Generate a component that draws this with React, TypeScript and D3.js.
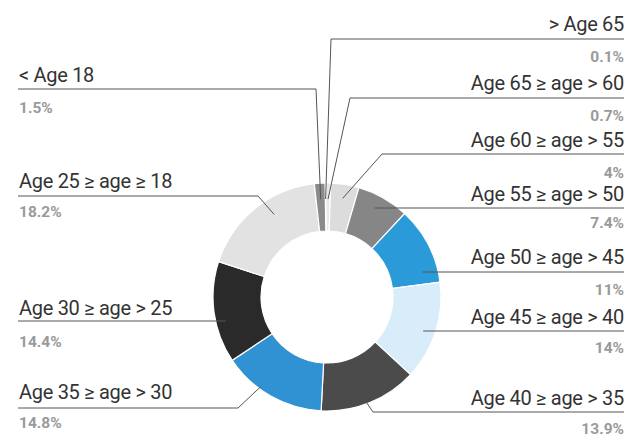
import * as d3 from "d3";

// slices, clockwise from 12 o'clock
const categories = [
  "> Age 65",
  "Age 65 ≥ age > 60",
  "Age 60 ≥ age > 55",
  "Age 55 ≥ age > 50",
  "Age 50 ≥ age > 45",
  "Age 45 ≥ age > 40",
  "Age 40 ≥ age > 35",
  "Age 35 ≥ age > 30",
  "Age 30 ≥ age > 25",
  "Age 25 ≥ age ≥ 18",
  "< Age 18",
];
const values = [0.1, 0.7, 4, 7.4, 11, 14, 13.9, 14.8, 14.4, 18.2, 1.5];
const valueLabels = ["0.1%", "0.7%", "4%", "7.4%", "11%", "14%", "13.9%", "14.8%", "14.4%", "18.2%", "1.5%"];

const colors = [
  "#c9c9c9", "#e8e8e8", "#dcdcdc", "#868686", "#2b9ad8", "#d9ecf9",
  "#4b4b4b", "#3091d3", "#2a2a2a", "#e2e2e2", "#8a8a8a",
];

// label layout: side, text baseline, rule y, value baseline, leader line
type Lay = {
  side: "l" | "r";
  ty: number;
  ly: number;
  py: number;
  kind: "h" | "e";
  frac: number;
  r: number;
  ex?: number;
};
const layout: Lay[] = [
  { side: "r", ty: 31, ly: 39, py: 62, kind: "e", frac: 0.5, r: 98, ex: 331 },
  { side: "r", ty: 90, ly: 98, py: 121, kind: "e", frac: 0.5, r: 98, ex: 350 },
  { side: "r", ty: 147, ly: 154, py: 178, kind: "e", frac: 0.5, r: 100, ex: 382 },
  { side: "r", ty: 201, ly: 208, py: 228, kind: "h", frac: 0, r: 101 },
  { side: "r", ty: 264, ly: 272, py: 295, kind: "h", frac: 0, r: 99 },
  { side: "r", ty: 324, ly: 331, py: 353, kind: "h", frac: 0, r: 102 },
  { side: "r", ty: 405, ly: 412, py: 434, kind: "e", frac: 0.53, r: 113, ex: 373 },
  { side: "l", ty: 399, ly: 408, py: 428, kind: "e", frac: 0.63, r: 112, ex: 238 },
  { side: "l", ty: 315, ly: 321, py: 347, kind: "h", frac: 0, r: 104 },
  { side: "l", ty: 188, ly: 196, py: 217, kind: "e", frac: 0.6, r: 98, ex: 258 },
  { side: "l", ty: 82, ly: 89, py: 113, kind: "e", frac: 0.5, r: 98, ex: 316 },
];

const W = 629;
const H = 437;
const cx = 327;
const cy = 297;
const outerR = 114;
const innerR = 66;
const leftX = 18;
const rightX = 624;

const font = "Roboto, 'DejaVu Sans Condensed', sans-serif";

export default function App() {
  const startA = (-1 * Math.PI) / 180;
  const pie = d3
    .pie<number>()
    .sort(null)
    .value((d) => d)
    .startAngle(startA)
    .endAngle(startA + 2 * Math.PI);
  const arcs = pie(values);
  const arc = d3.arc<d3.PieArcDatum<number>>().innerRadius(innerR).outerRadius(outerR);

  const leader = (i: number) => {
    const L = layout[i];
    const a = arcs[i];
    const edgeX = L.side === "r" ? rightX : leftX;
    if (L.kind === "h") {
      const dy = L.ly - cy;
      const dx = Math.sqrt(L.r * L.r - dy * dy);
      const x = L.side === "r" ? cx + dx : cx - dx;
      return d3.line()([
        [edgeX, L.ly],
        [x, L.ly],
      ]);
    }
    const ang = a.startAngle + (a.endAngle - a.startAngle) * L.frac;
    const px = cx + L.r * Math.sin(ang);
    const py = cy - L.r * Math.cos(ang);
    return d3.line()([
      [edgeX, L.ly],
      [L.ex!, L.ly],
      [px, py],
    ]);
  };

  return (
    <svg
      width={W}
      height={H}
      style={{ position: "absolute", left: 0, top: 0, background: "#fff" }}
    >
      <g transform={`translate(${cx},${cy})`}>
        {arcs.map((a, i) => (
          <path key={i} d={arc(a) || ""} fill={colors[i]} stroke="#fff" strokeWidth={1.2} />
        ))}
      </g>
      {categories.map((c, i) => (
        <path key={"l" + i} d={leader(i) || ""} fill="none" stroke="#555" strokeWidth={1} />
      ))}
      {categories.map((c, i) => {
        const L = layout[i];
        const x = L.side === "r" ? rightX : leftX + 1;
        const anchor = L.side === "r" ? "end" : "start";
        return (
          <g key={"t" + i} fontFamily={font}>
            <text x={x} y={L.ty} textAnchor={anchor} fontSize={20} letterSpacing={-0.3} fill="#333">
              {c}
            </text>
            <text x={x} y={L.py} textAnchor={anchor} fontSize={15.5} fontWeight="bold" fill="#9a9a9a">
              {valueLabels[i]}
            </text>
          </g>
        );
      })}
    </svg>
  );
}
